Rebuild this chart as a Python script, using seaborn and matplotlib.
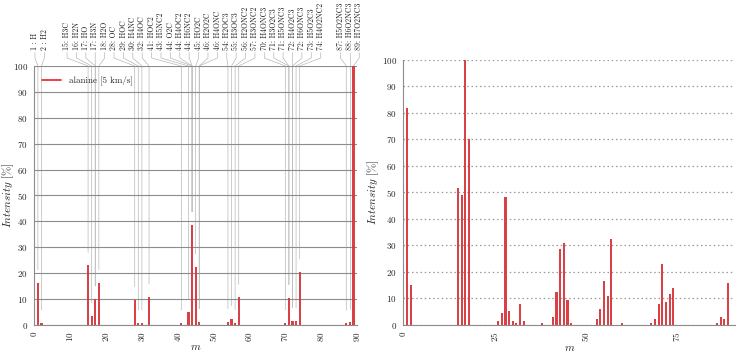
import numpy as np
import pandas as pd
import matplotlib
import matplotlib.pyplot as plt
import matplotlib.transforms as mtransforms
from matplotlib.lines import Line2D
import seaborn as sns

# left panel: simulated spectrum
left_masses = [1, 2, 15, 16, 17, 18, 28, 29, 30, 32, 41, 43, 44, 45, 46,
               54, 55, 56, 57, 70, 71, 72, 73, 74, 87, 88, 89]
left_intensity = [16.3, 0.7, 23.0, 3.5, 10.0, 16.3, 9.7, 0.7, 0.7, 10.7, 0.7, 5.0, 38.7, 22.3, 1.2,
                  1.2, 2.3, 0.8, 10.6, 0.8, 10.5, 1.6, 1.6, 20.5, 0.6, 1.2, 100.0]

# right panel: reference spectrum
right_masses = [1, 2, 15, 16, 17, 18, 26, 27, 28, 29, 30, 31, 32, 33, 38, 41, 42, 43, 44, 45, 46,
                53, 54, 55, 56, 57, 60, 68, 69, 70, 71, 72, 73, 74, 86, 87, 88, 89]
right_intensity = [81.7, 15.0, 51.5, 48.9, 100.0, 70.0, 1.4, 4.3, 48.1, 5.1, 1.4, 0.8, 7.9, 1.3, 0.8,
                   2.8, 12.2, 28.7, 30.9, 9.3, 0.8, 2.1, 5.8, 16.5, 10.7, 32.3, 0.8, 0.8, 2.1, 7.9,
                   22.9, 8.6, 11.5, 13.7, 0.8, 3.0, 2.1, 15.8]

# fragment labels
label_masses = [1, 2, 15, 16, 17, 17, 18, 28, 29, 30, 32, 41, 43, 44, 44, 44, 45, 46, 46,
                54, 55, 56, 57, 70, 71, 71, 72, 72, 73, 74, 87, 88, 89]
label_names = ['H', 'H2', 'H3C', 'H2N', 'HO', 'H3N', 'H2O', 'OC', 'HOC', 'H4NC', 'H4OC', 'HOC2',
               'H5NC2', 'O2C', 'H4OC2', 'H6NC2', 'HO2C', 'H2O2C', 'H4ONC', 'H2OC3', 'H3OC3',
               'H2ONC2', 'H3ONC2', 'H4ONC3', 'H3O2C3', 'H5ONC3', 'H4O2C3', 'H6ONC3', 'H5O2C3',
               'H4O2NC2', 'H5O2NC3', 'H6O2NC3', 'H7O2NC3']

RED = '#f21c24'

sns.set_style('white')
plt.rcParams['font.family'] = ['cmr10', 'DejaVu Serif']
plt.rcParams['mathtext.fontset'] = 'cm'
plt.rcParams['axes.formatter.use_mathtext'] = True
plt.rcParams['axes.unicode_minus'] = False


def spread_labels(masses, gap):
    # merge overlapping groups, each group evenly spaced around its mid-range
    groups = [[i] for i in range(len(masses))]

    def positions(g):
        c = (masses[g[0]] + masses[g[-1]]) / 2
        return [c + (k - (len(g) - 1) / 2) * gap for k in range(len(g))]

    merged = True
    while merged:
        merged = False
        for j in range(len(groups) - 1):
            if positions(groups[j])[-1] + gap > positions(groups[j + 1])[0]:
                groups[j] = groups[j] + groups[j + 1]
                del groups[j + 1]
                merged = True
                break
    out = []
    for g in groups:
        out.extend(positions(g))
    return out


def style_axis(ax, grid_style):
    ax.set_ylim(0, 100)
    ax.set_yticks(range(0, 101, 10))
    ax.yaxis.grid(True, color='#8c8c8c' if grid_style == '-' else '#9a9a9a',
                  linestyle=grid_style, linewidth=0.8 if grid_style == '-' else 0.9)
    ax.xaxis.grid(False)
    ax.set_axisbelow(True)
    for side in ['top', 'right']:
        ax.spines[side].set_visible(False)
    for side in ['left', 'bottom']:
        ax.spines[side].set_color('#8c8c8c')
        ax.spines[side].set_linewidth(0.8)
    ax.tick_params(axis='both', labelsize=6.5, length=2.5, width=0.6, color='black', pad=2)
    ax.tick_params(axis='x', labelrotation=90)
    ax.set_xlabel('$m$', fontsize=8, labelpad=1)
    ax.set_ylabel('$Intensity$ [%]', fontsize=8)


fig = plt.figure(figsize=(7.36, 3.53), dpi=100)
ax1 = fig.add_axes([0.0466, 0.080, 0.4385, 0.733])
ax2 = fig.add_axes([0.548, 0.080, 0.451, 0.750])

df_left = pd.DataFrame({'m': left_masses, 'Intensity': left_intensity})
sns.barplot(data=df_left, x='m', y='Intensity', native_scale=True, width=0.6,
            color=RED, alpha=0.95, linewidth=0, ax=ax1)
ax1.set_xlim(0, 90)
ax1.set_xticks(range(0, 91, 10))
style_axis(ax1, '-')
ax1.yaxis.set_label_coords(-0.058, 0.5)
ax1.xaxis.set_label_coords(0.5, -0.07)

# fragment labels with leader lines
trans = mtransforms.blended_transform_factory(ax1.transData, ax1.transAxes)
heights = dict(zip(left_masses, left_intensity))
label_x = spread_labels(label_masses, 2.62)
for m, name, lx in zip(label_masses, label_names, label_x):
    ax1.text(lx, 1.062, f'{m}: {name}' if m >= 10 else f'{m} : {name}', transform=trans,
             rotation=90, ha='center', va='bottom', fontsize=5.6, color='#222222')
    top = min(heights.get(m, 0) + 5, 100) / 100
    ax1.plot([lx, lx, m, m], [1.052, 1.031, 1.0, top], transform=trans, clip_on=False,
             color='#b8b8b8', linewidth=0.5, zorder=0.5)

ax1.legend(handles=[Line2D([0], [0], color=RED, linewidth=1.2)], labels=['alanine [5 km/s]'],
           loc='upper left', frameon=False, fontsize=6.5, handlelength=2.2,
           borderaxespad=0.4, bbox_to_anchor=(0.0, 0.99))

df_right = pd.DataFrame({'m': right_masses, 'Intensity': right_intensity})
sns.barplot(data=df_right, x='m', y='Intensity', native_scale=True, width=0.6,
            color=RED, alpha=0.95, linewidth=0, ax=ax2)
ax2.set_xlim(0, 91)
ax2.set_xticks([0, 25, 50, 75])
style_axis(ax2, (0, (1.2, 2.2)))
ax2.yaxis.set_label_coords(-0.067, 0.5)
ax2.xaxis.set_label_coords(0.5, -0.07)

fig.savefig('out.png', dpi=100)
